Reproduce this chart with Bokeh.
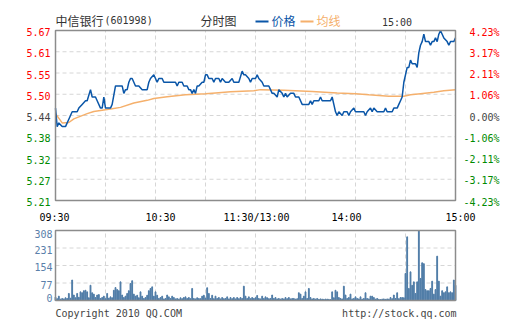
from bokeh.plotting import figure
from bokeh.models import Range1d, Grid
from bokeh.core.properties import value
from bokeh.embed import file_html
from bokeh.resources import INLINE

# ---------------- data ----------------
prev_close = 5.44

price_t = [0, 1, 2, 4, 6, 7, 8, 10, 13, 14, 16, 18, 19, 21, 22, 24, 25, 27, 28, 29, 30, 33, 34, 36, 37,
           39, 40, 41, 42, 43, 44, 45, 46, 47, 48, 49, 50, 52, 53, 55, 56, 57, 59,
           60, 61, 62, 64, 65, 72, 73, 74, 76, 77, 79, 80, 81, 82, 83, 84, 85, 86, 88, 89, 90, 91, 92,
           94, 95, 96, 98, 99, 100, 102, 104, 106, 107, 109, 110, 112, 113, 114, 116, 117, 118, 119,
           120, 121, 122, 124, 125, 128, 129, 130, 131, 133, 134, 136, 137, 138, 139, 141, 142, 143, 144,
           146, 148, 152, 153, 154, 155, 157, 158, 159, 160, 165, 166, 167, 168, 169, 170, 172, 173, 175,
           176, 177, 179,
           180, 181, 183, 185, 186, 187, 189, 190, 191, 193, 197, 198, 199, 202, 203, 205, 206, 207, 208,
           209, 210, 211, 212, 213, 214, 216, 217, 218, 219, 220, 221, 222, 223, 224, 225, 226, 227, 228,
           229, 230, 231, 232, 233, 235, 236, 237, 239, 240]
price = [5.46, 5.41, 5.42, 5.41, 5.41, 5.42, 5.43, 5.45, 5.45, 5.46, 5.47, 5.48, 5.48, 5.51, 5.49, 5.49, 5.48,
         5.46, 5.46, 5.49, 5.46, 5.46, 5.47, 5.52, 5.52,
         5.52, 5.52, 5.50, 5.51, 5.51, 5.53, 5.54, 5.54, 5.53, 5.52, 5.52, 5.52, 5.51, 5.51, 5.51, 5.53, 5.54, 5.55,
         5.54, 5.53, 5.54, 5.54, 5.53, 5.53, 5.52, 5.53, 5.53, 5.52, 5.52, 5.51, 5.51, 5.50, 5.51, 5.50, 5.52,
         5.52, 5.53, 5.53, 5.55, 5.55, 5.54,
         5.54, 5.53, 5.54, 5.54, 5.53, 5.54, 5.53, 5.53, 5.54, 5.53, 5.53, 5.53, 5.56, 5.55, 5.55, 5.54, 5.53,
         5.54, 5.54,
         5.54, 5.55, 5.54, 5.53, 5.52, 5.52, 5.51, 5.50, 5.50, 5.49, 5.51, 5.50, 5.49, 5.50, 5.49, 5.50, 5.50,
         5.50, 5.49,
         5.49, 5.47, 5.47, 5.48, 5.47, 5.48, 5.48, 5.48, 5.49, 5.48, 5.48, 5.49, 5.47, 5.45, 5.44, 5.45, 5.44,
         5.45, 5.45,
         5.44, 5.45, 5.46,
         5.45, 5.45, 5.45, 5.45, 5.44, 5.45, 5.46, 5.45, 5.46, 5.45, 5.45, 5.46, 5.45, 5.45, 5.46, 5.46, 5.47,
         5.48, 5.49,
         5.53, 5.55, 5.57, 5.57, 5.59, 5.58, 5.58, 5.57, 5.61, 5.63, 5.64, 5.66, 5.64, 5.64, 5.64, 5.63, 5.64,
         5.64, 5.65,
         5.64, 5.66, 5.67, 5.66, 5.65, 5.64, 5.63, 5.64, 5.64, 5.65]

avg_t = [0, 4, 8, 11, 19, 23, 29, 34, 39, 47, 55, 59, 67, 78, 90, 96, 105, 119, 123, 137, 154, 169, 180,
         188, 200, 209, 213, 219, 227, 233, 240]
avg = [5.445, 5.420, 5.421, 5.431, 5.445, 5.451, 5.455, 5.458, 5.462, 5.474, 5.481, 5.486, 5.491, 5.496,
       5.499, 5.501, 5.504, 5.507, 5.510, 5.508, 5.505, 5.501, 5.499, 5.496, 5.492, 5.492, 5.496, 5.499,
       5.503, 5.507, 5.510]

volume = [15, 8, 19, 6, 9, 7, 12, 9, 31, 10,
          90, 24, 12, 31, 14, 38, 34, 43, 45, 38,
          12, 67, 34, 28, 13, 24, 26, 9, 13, 19,
          8, 31, 10, 16, 12, 45, 57, 48, 43, 82,
          24, 13, 19, 31, 43, 75, 87, 28, 19, 23,
          12, 38, 19, 9, 13, 23, 43, 53, 60, 19,
          38, 23, 9, 13, 19, 7, 9, 24, 16, 9,
          19, 13, 7, 9, 6, 12, 8, 13, 16, 9,
          13, 8, 53, 9, 7, 12, 9, 8, 19, 23,
          10, 56, 31, 9, 23, 8, 19, 9, 13, 7,
          13, 8, 9, 16, 7, 13, 8, 13, 7, 13,
          8, 13, 9, 63, 19, 9, 16, 8, 13, 9,
          12, 22, 9, 7, 19, 9, 16, 12, 8, 9,
          24, 9, 13, 7, 9, 6, 9, 7, 13, 8,
          13, 7, 9, 9, 6, 8, 34, 28, 9, 19,
          38, 9, 53, 13, 7, 9, 6, 9, 5, 7,
          6, 5, 6, 6, 5, 4, 38, 12, 45, 38,
          13, 9, 7, 63, 24, 9, 13, 28, 7, 9,
          16, 9, 7, 16, 6, 9, 34, 9, 7, 19,
          19, 13, 6, 9, 5, 4, 6, 7, 5, 7,
          6, 13, 8, 24, 9, 34, 8, 13, 13, 12,
          119, 280, 53, 126, 67, 82, 31, 82, 308, 97,
          166, 162, 48, 43, 43, 53, 85, 28, 48, 195,
          85, 19, 43, 34, 38, 60, 34, 38, 34, 90, 67]
vol_t = list(range(len(volume)))

price_ticks = [5.21, 5.2675, 5.325, 5.3825, 5.44, 5.4975, 5.555, 5.6125, 5.67]
price_labels = ["5.21", "5.27", "5.32", "5.38", "5.44", "5.50", "5.55", "5.61", "5.67"]
pct_labels = ["-4.23%", "-3.17%", "-2.11%", "-1.06%", "0.00%", "1.06%", "2.11%", "3.17%", "4.23%"]

time_ticks = [0, 60, 120, 180, 240]
time_labels = ["09:30", "10:30", "11:30/13:00", "14:00", "15:00"]
grid_ticks = [30, 60, 90, 120, 150, 180, 210]

vol_ticks = [0, 77, 154, 231, 308]
vol_labels = ["0", "77", "154", "231", "308"]

# ---------------- layout (pixels) ----------------
W, H = 505, 330
FX0, FX1 = 55, 455          # plot frames, left/right
PY0, PY1 = 30, 200          # price frame top/bottom
VY0, VY1 = 230, 300         # volume frame top/bottom
PMIN, PMAX = price_ticks[0], price_ticks[-1]
VMAX = vol_ticks[-1]
TMAX = time_ticks[-1]

mpp = TMAX / (FX1 - FX0)
ppp = (PMAX - PMIN) / (PY1 - PY0)
vpp = VMAX / (VY1 - VY0)


def sx(px):
    return (px - FX0) * mpp


def sy(py):
    return PMAX + (PY0 - py) * ppp


# ---------------- style ----------------
MONO = value("DejaVu Sans Mono")
CJK = value("Noto Sans CJK SC")
RED, GREEN, GRAY = "#ff0000", "#008a00", "#444444"
BLUE, ORANGE, BAR = "#0a56a8", "#f5b06c", "#4e7ba6"
GRID = "#d6d6d6"
FRAME = "#8c8c8c"


def tick_color(v):
    if abs(v - prev_close) < 1e-6:
        return GRAY
    return RED if v > prev_close else GREEN


p = figure(width=W, height=H,
           x_range=Range1d(-FX0 * mpp, TMAX + (W - FX1) * mpp),
           y_range=Range1d(PMIN - (H - PY1) * ppp, PMAX + PY0 * ppp),
           x_axis_location=None, y_axis_location=None, toolbar_location=None,
           title=None, output_backend="svg", min_border=0)
p.extra_y_ranges = {"vol": Range1d(-(H - VY1) * vpp, VMAX + VY0 * vpp)}
p.center = [r for r in p.center if not isinstance(r, Grid)]
p.outline_line_color = None
p.background_fill_color = "white"
p.border_fill_color = "white"

# grid lines
p.segment(x0=grid_ticks, y0=PMIN, x1=grid_ticks, y1=PMAX, line_color=GRID, line_dash="4 3", line_width=1)
p.segment(x0=0, y0=price_ticks[1:-1], x1=TMAX, y1=price_ticks[1:-1], line_color=GRID, line_dash="4 3",
          line_width=1)
p.segment(x0=grid_ticks, y0=0, x1=grid_ticks, y1=VMAX, line_color=GRID, line_dash="4 3", line_width=1,
          y_range_name="vol")
p.segment(x0=0, y0=vol_ticks[1:-1], x1=TMAX, y1=vol_ticks[1:-1], line_color=GRID, line_dash="4 3",
          line_width=1, y_range_name="vol")

# series
p.line(avg_t, avg, line_color=ORANGE, line_width=1.5)
p.line(price_t, price, line_color=BLUE, line_width=1.5)
p.vbar(x=vol_t, top=volume, width=0.5, color=BAR, y_range_name="vol")

# frames
p.quad(left=0, right=TMAX, bottom=PMIN, top=PMAX, fill_color=None, line_color=FRAME, line_width=1.5)
p.quad(left=0, right=TMAX, bottom=0, top=VMAX, fill_color=None, line_color=FRAME, line_width=1.5,
       y_range_name="vol")

# price tick labels
colors = [tick_color(v) for v in price_ticks]
p.text(x=0, y=price_ticks, text=price_labels, text_color=colors, x_offset=-5, y_offset=1.5,
       text_align="right", text_baseline="middle", text_font=MONO, text_font_size="10px")
p.text(x=TMAX, y=price_ticks, text=pct_labels, text_color=colors, x_offset=44, y_offset=1.5,
       text_align="right", text_baseline="middle", text_font=MONO, text_font_size="10px")

# time labels
time_dx = [-1, 5, 1, -9, 5]
p.text(x=time_ticks, y=PMIN, text=time_labels, x_offset=time_dx, y_offset=16.5,
       text_align="center", text_baseline="middle", text_color="#000000",
       text_font=MONO, text_font_size="10px")

# header
p.text(x=[0], y=[PMAX], text=["中信银行"], y_offset=-10, text_font=CJK, text_font_size="12px",
       text_color="#333333", text_baseline="middle", text_align="left")
p.text(x=[0], y=[PMAX], text=["(601998)"], x_offset=49, y_offset=-10, text_font=MONO,
       text_font_size="10px", text_color="#333333", text_baseline="middle", text_align="left")
p.text(x=[0], y=[PMAX], text=["分时图"], x_offset=145, y_offset=-10, text_font=CJK,
       text_font_size="12px", text_color="#333333", text_baseline="middle", text_align="left")
p.segment(x0=[sx(255)], y0=[sy(21)], x1=[sx(268)], y1=[sy(21)], line_color=BLUE, line_width=2)
p.text(x=[0], y=[PMAX], text=["价格"], x_offset=216, y_offset=-10, text_font=CJK,
       text_font_size="12px", text_color=BLUE, text_baseline="middle", text_align="left")
p.segment(x0=[sx(300)], y0=[sy(21)], x1=[sx(313)], y1=[sy(21)], line_color=ORANGE, line_width=2)
p.text(x=[0], y=[PMAX], text=["均线"], x_offset=261, y_offset=-10, text_font=CJK,
       text_font_size="12px", text_color=ORANGE, text_baseline="middle", text_align="left")
p.text(x=[TMAX], y=[PMAX], text=["15:00"], x_offset=-58.5, y_offset=-8, text_font=MONO,
       text_font_size="10px", text_color="#333333", text_baseline="middle", text_align="center")

# volume labels
vol_dy = [-3, 1.5, 1.5, 1.5, 3]
p.text(x=0, y=vol_ticks, text=vol_labels, x_offset=-3, y_offset=vol_dy, y_range_name="vol",
       text_align="right", text_baseline="middle", text_color="#5a80aa",
       text_font=MONO, text_font_size="10px")
p.text(x=[0], y=[0], text=["Copyright 2010 QQ.COM"], y_offset=13, y_range_name="vol",
       text_font=MONO, text_font_size="10px", text_color="#444444", text_baseline="middle",
       text_align="left")
p.text(x=[TMAX], y=[0], text=["http://stock.qq.com"], x_offset=1, y_offset=13, y_range_name="vol",
       text_font=MONO, text_font_size="10px", text_color="#444444", text_baseline="middle",
       text_align="right")

open("out.html", "w").write(file_html(p, INLINE))
